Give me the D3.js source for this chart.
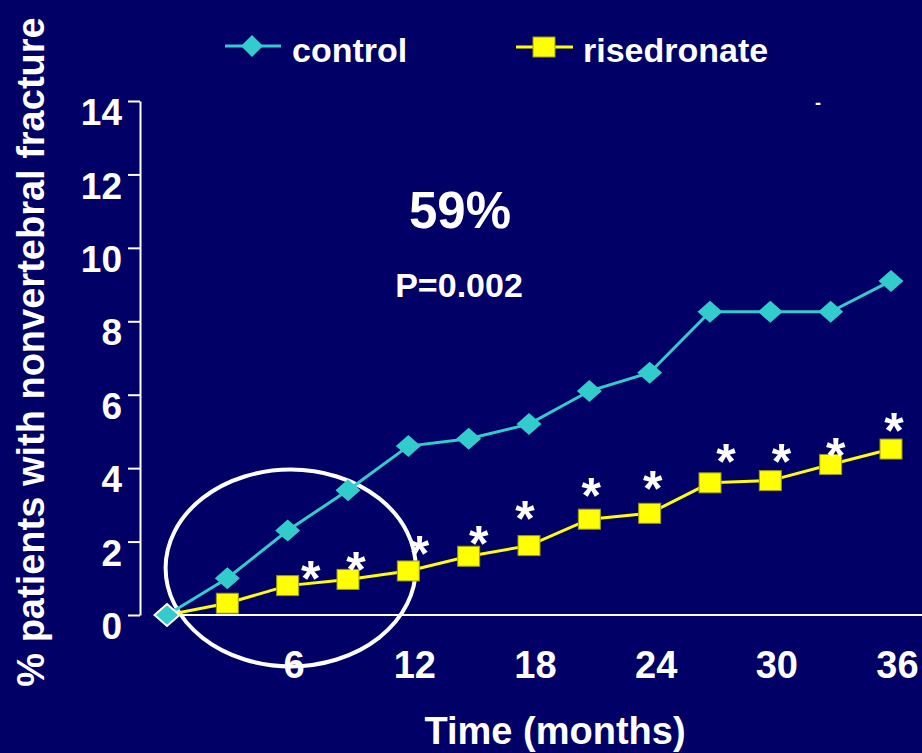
<!DOCTYPE html>
<html>
<head>
<meta charset="utf-8">
<script src="https://cdn.jsdelivr.net/npm/d3@7"></script>
<style>
  html, body { margin: 0; padding: 0; background: #000066; }
  svg { display: block; }
  text { font-family: "Liberation Sans", Arial, Helvetica, sans-serif; font-weight: bold; fill: #ffffff; }
</style>
</head>
<body>
<svg id="chart" width="922" height="753"></svg>
<script>
// ---- data ----
const months = [0, 3, 6, 9, 12, 15, 18, 21, 24, 27, 30, 33, 36];
const control = [0, 1.0, 2.3, 3.4, 4.6, 4.8, 5.2, 6.1, 6.6, 8.26, 8.26, 8.26, 9.1];
const risedronate = [0, 0.32, 0.8, 0.97, 1.2, 1.6, 1.89, 2.61, 2.77, 3.6, 3.66, 4.1, 4.52];
const yTicks = [0, 2, 4, 6, 8, 10, 12, 14];
const xTicks = [6, 12, 18, 24, 30, 36];
// significance asterisks (anchor in data units: month, %)
const starMonths = [7.15, 9.4, 12.55, 15.5, 17.8, 21.1, 24.15, 27.8, 30.55, 33.25, 36.15];
const starValues = [1.28, 1.50, 1.96, 2.23, 2.89, 3.54, 3.73, 4.44, 4.44, 4.63, 5.29];
// highlighted region (ellipse, data units)
const ellipseCenter = [6.15, 1.28];
const ellipseRadii = [6.22, 2.68];
const seriesNames = ["control", "risedronate"];
const yTitle = "% patients with nonvertebral fracture";
const xTitle = "Time (months)";
const reduction = "59%";
const pValue = "P=0.002";

// ---- setup ----
const W = 922, H = 753;
const svg = d3.select("#chart");
const BG = "#000066", CYAN = "#33CCCC", YEL = "#FFFF00";

svg.append("rect").attr("width", W).attr("height", H).attr("fill", BG);

const x = d3.scaleLinear().domain([0, 36]).range([167, 891]);
const y = d3.scaleLinear().domain([0, 14]).range([615, 101]);

// y axis
const yAxis = svg.append("g").attr("transform", "translate(140,0)")
  .call(d3.axisLeft(y).tickValues(yTicks).tickSize(12).tickSizeOuter(0).tickPadding(6).tickFormat(d3.format("d")));
yAxis.selectAll("path, line").attr("stroke", "#fff").attr("stroke-width", 2);
yAxis.selectAll("text").attr("fill", "#fff").attr("font-size", 37).attr("dy", "0.64em")
  .style("font-family", "'Liberation Sans', Arial, sans-serif").style("font-weight", "bold");

// x axis line
svg.append("line").attr("x1", x(0)).attr("x2", W).attr("y1", y(0)).attr("y2", y(0))
  .attr("stroke", "#fff").attr("stroke-width", 2);
const xAxis = svg.append("g").attr("transform", `translate(6,${y(0)})`)
  .call(d3.axisBottom(x).tickValues(xTicks).tickSize(0).tickPadding(36).tickFormat(d3.format("d")));
xAxis.select(".domain").remove();
xAxis.selectAll("text").attr("fill", "#fff").attr("font-size", 38)
  .style("font-family", "'Liberation Sans', Arial, sans-serif").style("font-weight", "bold");

// titles
svg.append("text").attr("transform", "translate(44,352) rotate(-90)")
  .attr("text-anchor", "middle").attr("font-size", 38).text(yTitle);
svg.append("text").attr("x", 555).attr("y", 744).attr("text-anchor", "middle")
  .attr("font-size", 38).text(xTitle);

// annotations
svg.append("text").attr("x", 460).attr("y", 228).attr("text-anchor", "middle")
  .attr("font-size", 51).text(reduction);
svg.append("text").attr("x", 459).attr("y", 297).attr("text-anchor", "middle")
  .attr("font-size", 34).text(pValue);
svg.append("text").attr("x", 818).attr("y", 109).attr("text-anchor", "middle")
  .attr("font-size", 18).text("-");

// ellipse
svg.append("ellipse")
  .attr("cx", x(ellipseCenter[0])).attr("cy", y(ellipseCenter[1]))
  .attr("rx", x(ellipseRadii[0]) - x(0)).attr("ry", y(0) - y(ellipseRadii[1]))
  .attr("fill", "none").attr("stroke", "#fff").attr("stroke-width", 4);

// lines
const line = d3.line().x(d => x(d[0])).y(d => y(d[1]));
const cData = months.map((m, i) => [m, control[i]]);
const rData = months.map((m, i) => [m, risedronate[i]]);
svg.append("path").datum(cData).attr("d", line).attr("fill", "none").attr("stroke", CYAN).attr("stroke-width", 3);
svg.append("path").datum(rData).attr("d", line).attr("fill", "none").attr("stroke", YEL).attr("stroke-width", 3);

// markers
const diamond = (w, h) => `M0,${-h/2}L${w/2},0L0,${h/2}L${-w/2},0Z`;
svg.append("g").selectAll("rect").data(rData.slice(1)).join("rect")
  .attr("x", d => x(d[0]) - 11).attr("y", d => y(d[1]) - 10)
  .attr("width", 22).attr("height", 20)
  .attr("fill", YEL).attr("stroke", "#9a9a10").attr("stroke-width", 1);
svg.append("g").selectAll("path").data(cData).join("path")
  .attr("transform", d => `translate(${x(d[0])},${y(d[1])})`)
  .attr("d", diamond(25, 22))
  .attr("fill", CYAN)
  .attr("stroke", (d, i) => i === 0 ? "#fff" : "none")
  .attr("stroke-width", 2);

// asterisks
svg.append("g").selectAll("text").data(starMonths.map((m, i) => [m, starValues[i]])).join("text")
  .attr("x", d => x(d[0])).attr("y", d => y(d[1])).attr("dy", "0.55em")
  .attr("text-anchor", "middle").attr("font-size", 50).text("*");

// legend
const lg = svg.append("g");
lg.append("line").attr("x1", 225).attr("x2", 281).attr("y1", 46).attr("y2", 46).attr("stroke", CYAN).attr("stroke-width", 3);
lg.append("path").attr("transform", "translate(252,46)").attr("d", diamond(22, 22)).attr("fill", CYAN);
lg.append("text").attr("x", 292).attr("y", 62).attr("font-size", 34).text(seriesNames[0]);
lg.append("line").attr("x1", 516).attr("x2", 573).attr("y1", 47).attr("y2", 47).attr("stroke", YEL).attr("stroke-width", 3);
lg.append("rect").attr("x", 533).attr("y", 37).attr("width", 22).attr("height", 20)
  .attr("fill", YEL).attr("stroke", "#9a9a10").attr("stroke-width", 1);
lg.append("text").attr("x", 583).attr("y", 62).attr("font-size", 34).text(seriesNames[1]);
</script>
</body>
</html>
